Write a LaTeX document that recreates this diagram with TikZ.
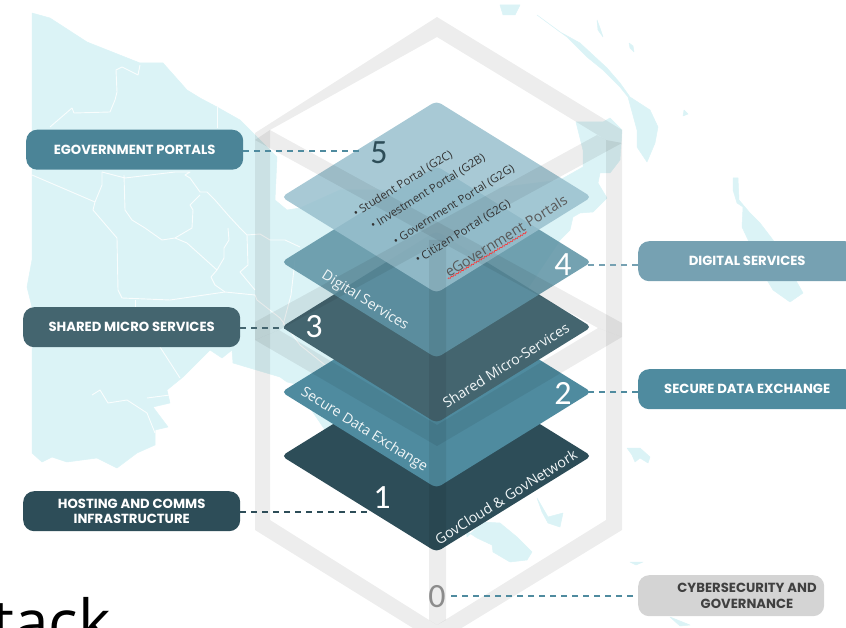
\documentclass[tikz,border=0pt]{standalone}
\usepackage{fontspec}
\setmainfont{Open Sans}
\newfontfamily\labfont{Poppins}
\newfontfamily\numfont{Carlito}
\usetikzlibrary{decorations.pathmorphing}
\definecolor{mapc}{HTML}{DBF3F6}
\definecolor{cA}{HTML}{2D4D58}
\definecolor{cB}{HTML}{4F8B9F}
\definecolor{cC}{HTML}{44656F}
\definecolor{cD}{HTML}{5F94A5}
\definecolor{cDl}{HTML}{76A1B2}
\definecolor{cE}{HTML}{99C0CE}
\definecolor{cG}{HTML}{D4D4D4}
\tikzset{
  land/.style={fill=mapc,draw=mapc,line width=.5pt,line join=round},
  border/.style={draw=white,line width=.9pt,line join=round,opacity=.85},
  band/.style={fill=black,fill opacity=.07,draw=none},
  layer/.style={rounded corners=5pt,draw=none},
  labelbox/.style={rounded corners=11pt,inner sep=0pt,text=white,align=center,font=\labfont\bfseries\fontsize{13.2}{15.5}\selectfont,minimum height=40pt},
  labeltext/.style={inner sep=0pt,align=center,font=\labfont\bfseries\fontsize{13.2}{15.5}\selectfont},
  onlayer/.style={inner sep=0pt,font=\fontsize{14.2}{15}\selectfont},
  portal/.style={inner sep=0pt,text=black!80,font=\fontsize{11.3}{13}\selectfont,rotate=32},
  digit/.style={inner sep=0pt,font=\numfont\fontsize{34}{34}\selectfont},
  link/.style={line width=1.5pt,dash pattern=on 6pt off 5pt}
}
\begin{document}
\begin{tikzpicture}[x=1pt,y=-1pt]
\useasboundingbox (0,0) rectangle (846,628);
\clip (0,0) rectangle (846,628);
% map
\path[land] (32,13)--(50,18)--(87,42)--(140,63)--(163,63)--(187,90)--(200,98)--(217,107)--(240,120)--(253,133)--(277,157)--(275,200)--(287,210)--(300,208)--(340,190)--(480,190)--(560,180)--(583,167)--(583,150)--(576,122)--(603,122)--(610,118)--(622,130)--(620,160)--(610,173)--(600,173)--(598,183)--(607,198)--(593,212)--(580,213)--(573,217)--(570,230)--(560,240)--(520,300)--(500,340)--(470,420)--(460,470)--(467,537)--(483,522)--(500,523)--(517,537)--(532,552)--(527,560)--(510,562)--(493,552)--(492,545)--(477,538)--(450,520)--(400,470)--(340,440)--(325,430)--(308,405)--(300,385)--(287,382)--(280,377)--(233,363)--(232,350)--(222,358)--(210,350)--(200,360)--(183,377)--(167,390)--(170,403)--(153,407)--(168,427)--(155,430)--(155,445)--(137,453)--(117,468)--(97,458)--(67,462)--(52,457)--(42,462)--(32,453)--(32,307)--(27,287)--(32,260)--cycle;
\path[land] (537,15)--(560,32)--(580,43)--(607,68)--(620,83)--(630,97)--(650,110)--(658,127)--(655,143)--(647,162)--(637,147)--(637,130)--(628,97)--(620,87)--(603,70)--(587,57)--(567,37)--cycle;
\path[land] (733,178)--(738,178)--(739,200)--(750,213)--(760,223)--(773,240)--(803,293)--(790,302)--(773,290)--(767,280)--(742,227)--(743,207)--(737,203)--(733,190)--cycle;
\path[land] (500,5)--(520,5)--(515,15)--(503,15)--cycle;
\path[land] (597,20)--(600,28)--(603,37)--(598,30)--cycle;
\path[land] (629,43)--(633,46)--(634,52)--(630,48)--cycle;
\path[land] (684,110)--(688,114)--(683,116)--cycle;
\path[land] (627,448)--(640,448)--(650,457)--(648,463)--(640,458)--(635,462)--(632,455)--cycle;
\path[land] (537,498)--(548,517)--(563,513)--(560,527)--(548,523)--(542,512)--cycle;
\path[land] (630,562)--(643,562)--(636,565)--cycle;
\path[land] (670,617)--(690,625)--(680,626)--cycle;
% map borders
\draw[border] (50,127)--(72,108)--(74,113)--(110,112)--(115,100)--(117,92)--(116,70)--(122,67)--(138,75)--(140,65);
\draw[border] (32,175)--(95,202)--(93,210)--(117,238)--(118,290)--(122,298)--(170,300)--(225,292)--(255,295)--(257,300)--(280,318)--(300,345)--(325,365);
\draw[border] (102,172)--(102,185)--(95,202);
\draw[border] (124,175)--(125,210)--(132,220)--(145,228)--(162,240)--(175,238)--(187,243)--(217,270)--(211,277)--(215,285)--(225,292);
\draw[border] (102,172)--(125,178)--(175,172)--(190,172)--(185,175)--(190,178)--(200,192)--(207,192)--(215,200)--(228,215)--(240,228)--(247,235)--(248,265)--(240,272)--(255,290);
\draw[border] (175,238)--(192,228)--(193,210)--(190,205)--(200,195);
\draw[border] (228,228)--(229,240)--(224,248)--(224,258)--(217,270);
\draw[border] (247,235)--(260,234)--(270,240)--(285,240)--(300,247);
\draw[border] (295,260)--(291,295)--(283,325);
\draw[border] (217,107)--(217,128);
\draw[border] (135,300)--(135,307);
\draw[border] (160,347)--(180,378);
\draw[border] (92,395)--(100,390)--(108,403)--(127,400)--(147,413)--(155,433);
\draw[border] (147,398)--(170,395);
% layers
\path[layer,fill=cA] (436.5,360)--(591.5,456)--(436.5,552)--(281.5,456)--cycle;
\path[layer,fill=cB] (436.5,296)--(591.5,392)--(436.5,488)--(281.5,392)--cycle;
\path[layer,fill=cC] (436.5,231)--(591.5,327)--(436.5,423)--(281.5,327)--cycle;
\path[layer,fill=cD,fill opacity=.87] (436.5,166)--(591.5,262)--(436.5,358)--(281.5,262)--cycle;
\path[layer,fill=cE,fill opacity=.85] (436.5,101)--(591.5,197)--(436.5,293)--(281.5,197)--cycle;
% hexagon frame
\path[band,even odd rule] (437,17)--(622,130)--(622,530)--(437,643)--(255,530)--(255,133)--cycle
  (437,37)--(606,140)--(606,520)--(437,625)--(270,520)--(270,130)--cycle;
\path[band] (279,135)--(622,323)--(622,337)--(598,328)--(255,140)--(270,130)--cycle;
\path[band] (597,135)--(255,322)--(255,340)--(279,330)--(622,143)--(606,140)--cycle;
\path[band] (255,340)--(279,330)--(437,425)--(598,328)--(622,337)--(437,446)--cycle;
\path[band] (429,240)--(446,240)--(446,620)--(437,625)--(429,620)--cycle;
% labels
\node[labelbox,fill=cB!95!black,minimum width=217pt,anchor=north west] (l5) at (26,129.5) {EGOVERNMENT PORTALS};
\node[labelbox,fill=cC,minimum width=217pt,anchor=north west] (l3) at (23,307) {SHARED MICRO SERVICES};
\node[labelbox,fill=cA,minimum width=217pt,anchor=north west] (l1) at (23,491) {HOSTING AND COMMS\\INFRASTRUCTURE};
\node[labelbox,fill=cDl,minimum width=218pt,anchor=north west] (l4) at (638,241) {DIGITAL SERVICES};
\node[labelbox,fill=cB,minimum width=218pt,anchor=north west] (l2) at (638,369) {SECURE DATA EXCHANGE};
\node[labelbox,fill=cG,minimum width=186pt,anchor=north west,minimum height=41pt] (l0) at (638,575) {};
\node[labeltext,text=black!75] (t0) at (747,596) {CYBERSECURITY AND\\GOVERNANCE};
% numbers
\node[digit,text=cA] (n5) at (379,153) {5};
\node[digit,text=white] (n4) at (563,265) {4};
\node[digit,text=white] (n3) at (314,327) {3};
\node[digit,text=white] (n2) at (563,393) {2};
\node[digit,text=white] (n1) at (382,498) {1};
\node[digit,text=black!45] (n0) at (437,597) {0};
% connector ends
\coordinate (c5) at (360,151);
\coordinate (c4) at (588,265);
\coordinate (c3) at (285,328);
\coordinate (c2) at (587,392);
\coordinate (c1) at (368,512);
\coordinate (c0) at (447,596);
\coordinate (d0) at (633,596);
\draw[link,draw=cB] (l5.east |- c5) -- (c5);
\draw[link,draw=cDl] (l4.west |- c4) -- (c4);
\draw[link,draw=cC] (l3.east |- c3) -- (c3);
\draw[link,draw=cB] (l2.west |- c2) -- (c2);
\draw[link,draw=cA] (l1.east |- c1) -- (c1);
\draw[link,draw=cB] (d0) -- (c0);
% text on layers
\node[onlayer,text=white!92!cB,rotate=-32] (s4) at (365,301) {Digital Services};
\node[onlayer,text=white!92!cB,rotate=32] (s3) at (506,365) {Shared Micro-Services};
\node[onlayer,text=white!92!cB,rotate=-32] (s2) at (364,430) {Secure Data Exchange};
\node[onlayer,text=white!92!cB,rotate=32] (s1) at (506,497) {GovCloud \& GovNetwork};
\node[onlayer,text=black!65,rotate=32] (s5) at (506,236) {eGovernment Portals};
\draw[red!80,line width=.6pt,decorate,decoration={snake,amplitude=.7pt,segment length=3pt}] (448,279) -- (527,232);
\node[portal] (p1) at (403,184) {• Student Portal (G2C)};
\node[portal] (p2) at (428,192) {• Investment Portal (G2B)};
\node[portal] (p3) at (454,205) {• Government Portal (G2G)};
\node[portal] (p4) at (463,232) {• Citizen Portal (G2G)};
% cut-off title
\node[inner sep=0pt,anchor=base east,font=\fontsize{62}{62}\selectfont] (title) at (111,644) {tack};
\end{tikzpicture}
\end{document}
